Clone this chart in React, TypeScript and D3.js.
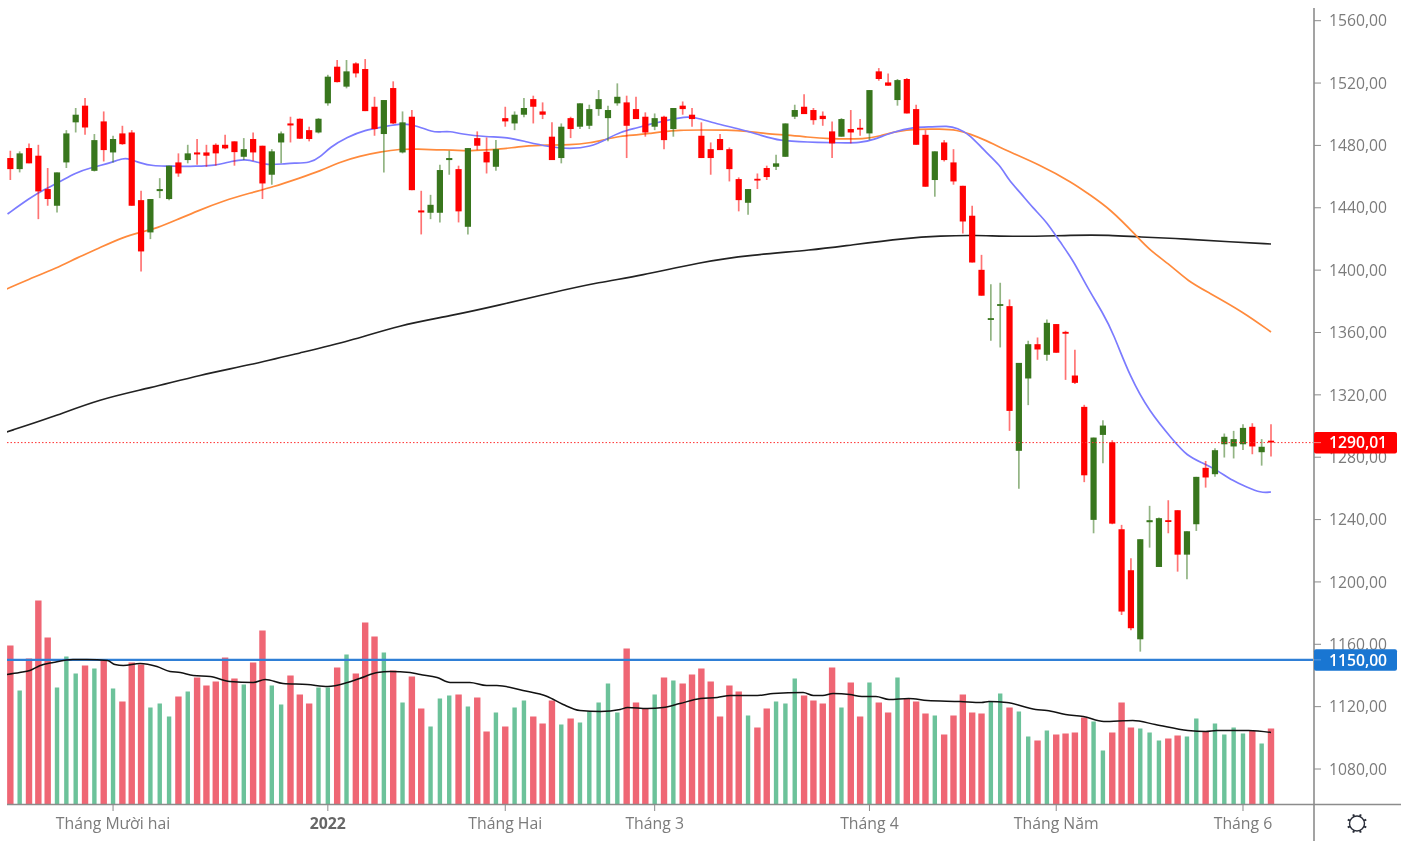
import React from "react";
import * as d3 from "d3";

const opens = [1471.9,1464.8,1478.3,1473.4,1452.0,1441.3,1469.1,1494.8,1505.5,1463.7,1495.4,1475.5,1487.7,1488.3,1444.9,1424.2,1450.7,1445.6,1469.1,1470.6,1475.5,1475.5,1480.4,1480.4,1482.6,1472.7,1484.1,1479.8,1461.2,1481.9,1494.1,1497.1,1489.8,1488.3,1507.0,1530.5,1517.7,1532.6,1529.0,1504.8,1487.3,1516.8,1475.5,1498.4,1438.3,1436.8,1436.8,1470.6,1464.8,1427.8,1484.7,1475.9,1466.3,1497.5,1494.1,1499.7,1509.7,1501.8,1485.6,1471.9,1497.5,1492.0,1492.6,1503.3,1497.5,1507.0,1507.6,1503.3,1498.4,1492.0,1498.4,1490.5,1505.5,1499.7,1486.2,1477.6,1484.1,1477.6,1458.4,1443.2,1458.6,1465.5,1466.3,1472.7,1498.4,1504.8,1502.7,1499.0,1489.0,1485.6,1490.5,1491.3,1487.7,1527.5,1520.4,1509.1,1522.6,1503.3,1486.8,1457.8,1481.9,1469.1,1454.1,1434.9,1400.2,1368.4,1377.1,1376.9,1284.1,1330.5,1352.5,1345.7,1365.4,1360.4,1332.4,1312.3,1239.8,1294.3,1289.6,1233.8,1207.5,1163.2,1238.3,1209.6,1239.6,1246.0,1217.5,1237.0,1273.2,1269.1,1288.3,1286.9,1288.3,1299.5,1283.2,1290.6];
const closes = [1464.8,1474.9,1468.5,1450.5,1445.6,1462.7,1487.7,1499.7,1491.5,1483.4,1477.0,1484.1,1480.8,1441.3,1412.0,1445.6,1452.0,1467.0,1462.0,1474.9,1474.2,1473.4,1474.9,1478.1,1475.7,1477.6,1475.5,1455.6,1476.2,1487.7,1492.8,1484.3,1484.1,1497.1,1524.1,1520.6,1527.5,1526.2,1502.0,1490.5,1509.1,1494.1,1494.8,1451.3,1437.0,1441.9,1464.2,1471.9,1437.7,1478.3,1479.8,1469.1,1477.6,1495.4,1499.7,1504.0,1504.8,1499.7,1470.6,1492.0,1490.5,1507.0,1503.3,1509.7,1502.7,1511.2,1492.6,1496.9,1488.3,1497.5,1483.4,1504.0,1503.3,1496.9,1471.9,1471.9,1477.0,1464.8,1444.9,1452.0,1457.5,1459.7,1468.5,1494.1,1502.7,1500.1,1496.2,1496.9,1481.3,1496.9,1488.3,1490.7,1515.5,1522.6,1518.3,1521.9,1500.5,1480.4,1453.5,1476.2,1470.6,1456.9,1431.2,1404.9,1383.6,1369.2,1378.2,1309.7,1340.5,1352.5,1349.1,1366.2,1347.0,1359.2,1327.7,1268.4,1292.6,1300.3,1237.4,1181.0,1170.3,1227.4,1239.6,1240.9,1238.9,1217.5,1232.5,1267.4,1267.0,1284.5,1293.1,1291.6,1298.8,1286.9,1286.7,1290.01];
const highs = [1476.6,1476.2,1481.3,1480.4,1465.5,1462.7,1489.8,1504.0,1510.4,1487.3,1501.8,1486.2,1492.6,1489.8,1450.9,1445.6,1459.0,1467.0,1474.9,1480.4,1484.1,1480.4,1481.3,1486.8,1482.6,1484.7,1488.3,1479.8,1477.6,1489.0,1498.4,1497.3,1492.0,1497.5,1525.3,1534.8,1534.8,1533.3,1535.4,1511.2,1509.1,1521.1,1501.8,1502.7,1450.9,1448.3,1467.6,1476.6,1467.0,1478.3,1489.0,1485.1,1483.4,1504.8,1501.8,1510.4,1511.9,1507.6,1494.8,1494.1,1498.4,1507.0,1506.1,1515.5,1505.5,1519.8,1511.9,1511.2,1501.2,1500.5,1499.0,1504.0,1508.2,1504.0,1494.8,1481.9,1487.3,1478.7,1459.5,1452.0,1462.0,1467.0,1474.0,1494.1,1506.1,1512.9,1504.0,1501.8,1495.4,1497.5,1502.7,1496.9,1515.5,1529.6,1526.2,1522.6,1523.2,1506.1,1489.8,1476.2,1483.4,1477.6,1454.1,1441.3,1409.8,1391.0,1391.9,1381.2,1340.5,1354.7,1356.8,1368.4,1365.4,1361.1,1348.9,1313.6,1292.6,1303.7,1290.9,1236.6,1215.2,1227.4,1248.8,1241.3,1252.4,1246.0,1232.5,1267.4,1277.6,1285.8,1295.2,1296.9,1301.2,1301.8,1291.6,1301.2];
const lows = [1457.8,1462.7,1468.5,1432.7,1441.3,1437.0,1465.5,1488.3,1486.8,1463.3,1469.7,1469.1,1480.4,1441.3,1399.2,1419.9,1446.2,1444.9,1459.9,1468.5,1467.6,1466.3,1467.0,1477.6,1467.0,1470.6,1470.2,1445.6,1454.8,1468.5,1481.9,1484.1,1482.6,1487.7,1505.5,1520.4,1516.6,1523.6,1502.0,1486.2,1462.7,1493.7,1474.9,1451.3,1422.9,1432.7,1430.6,1461.2,1430.6,1422.9,1477.0,1462.0,1463.7,1492.0,1489.8,1498.0,1494.1,1496.9,1470.6,1468.5,1484.7,1490.5,1490.5,1499.0,1482.6,1505.5,1471.9,1496.9,1485.6,1489.8,1477.6,1485.6,1499.7,1492.0,1471.9,1461.2,1477.0,1456.9,1437.7,1435.5,1452.0,1457.8,1464.2,1472.7,1496.9,1500.1,1493.3,1492.6,1471.9,1485.6,1481.3,1486.2,1483.4,1521.5,1518.3,1505.5,1500.5,1480.4,1453.5,1447.1,1469.7,1454.8,1423.5,1404.9,1383.6,1354.7,1350.4,1296.9,1259.7,1313.4,1342.5,1341.8,1347.0,1329.6,1326.9,1264.0,1231.2,1276.2,1237.0,1178.8,1169.0,1155.3,1222.0,1209.6,1231.2,1206.6,1201.7,1232.7,1260.5,1267.4,1279.8,1279.2,1284.7,1281.9,1274.6,1280.4];
const volumes = [159,114,146,204,167,117,148,131,139,136,144,116,103,142,140,97,101,88,108,113,127,119,123,147,126,120,142,174,119,100,129,110,101,117,117,137,150,131,182,168,152,134,102,128,96,78,106,109,110,98,107,73,92,78,97,104,88,81,104,80,86,82,93,102,121,92,156,102,96,110,127,124,121,130,136,123,88,119,113,89,77,96,103,101,126,109,104,101,137,97,122,88,122,102,92,127,106,103,91,89,70,89,110,92,91,103,111,97,93,68,64,74,70,71,72,87,83,54,72,102,77,76,72,64,66,69,68,86,73,81,70,77,71,74,61,76];

const blueIdx = [-0.3,2.1,3.5,5.3,6.9,8.9,10.7,12.1,12.8,13.9,15.3,16.8,18.9,20.3,21.7,23.8,25.1,26.4,27.5,29.2,30.3,32.1,33.2,34.2,36.1,38.0,39.9,42,43.6,45.2,46,47.1,48.2,51,53.2,55.3,57.8,59.9,62.1,63.9,65.3,67.1,68.5,69.6,71,72.1,73.3,75.3,78.1,80.3,82.4,85.3,88.8,91,92.4,94.5,96.7,98.8,100.3,101.4,102.8,104.2,106,106.9,108.1,109.5,111,112.4,113.8,115.3,117,118.1,119.9,122,124.5,126,127.7,129.2,130.9,132.4,133.9,135];
const blueVal = [1436.0,1446.3,1451.4,1456.5,1462.3,1466.2,1468.7,1471.9,1471.3,1468.7,1466.8,1466.8,1466.4,1466.8,1466.8,1470.0,1471.3,1469.4,1467.4,1468.1,1468.7,1468.7,1472.6,1478.7,1485.4,1489.9,1491.8,1494.4,1492.5,1488.6,1488.6,1489.2,1487.3,1485.4,1485.4,1482.2,1479.0,1477.7,1479.0,1484.1,1488.6,1491.2,1493.7,1495.0,1497.0,1498.2,1498.2,1494.4,1490.5,1486.7,1482.8,1482.2,1481.6,1481.6,1483.5,1488.6,1491.8,1491.8,1492.5,1491.2,1486.7,1477.1,1467.4,1457.8,1450.1,1439.9,1430.9,1418.1,1406.5,1389.2,1372.5,1359.7,1331.5,1309.0,1291.1,1280.8,1276.3,1271.8,1264.8,1260.9,1257.1,1257.7];
const orangeIdx = [-0.4,1.8,5,7.1,9.3,12.1,14.1,15.7,17.8,20,22.8,25.7,28.1,31,33.2,35.3,37.4,39.6,41.7,43.6,45.7,47.4,48.9,51,52.8,54.9,57.5,59.9,62.1,63.5,65.3,67.1,68.5,69.6,71.7,73.9,76.8,78.9,81,83.2,85.3,87.5,91.7,93.1,94.9,97.1,99.6,101.4,102.8,104.4,106.5,110.3,113.8,115.3,117.8,120.7,122,124.2,126.1,128.2,132,135];
const orangeVal = [1387.9,1393.7,1401.4,1407.8,1413.6,1421.3,1424.5,1427.0,1432.2,1437.9,1444.4,1449.5,1453.3,1459.1,1463.6,1469.4,1473.2,1475.8,1477.7,1477.7,1477.1,1477.1,1476.4,1477.1,1477.7,1479.6,1480.3,1480.3,1481.6,1483.5,1486.0,1486.7,1487.7,1488.6,1489.9,1489.9,1489.9,1489.2,1487.3,1486.7,1485.4,1484.1,1484.1,1486.0,1489.2,1490.5,1490.5,1489.9,1487.3,1483.5,1477.1,1467.4,1455.9,1449.5,1439.2,1421.3,1412.9,1403.3,1393.0,1386.0,1373.2,1360.3];
const blackIdx = [-0.4,4.3,9.6,15,20.3,25.7,31,36.4,41.7,47.1,52.4,57.8,63.2,67.4,73.9,79.2,86,89.9,96,99.6,103.1,108.1,113.8,117.8,120.7,126,130.6,135];
const blackVal = [1296.2,1305.2,1317.4,1324.4,1332.8,1339.2,1346.9,1354.6,1364.8,1370.6,1377.6,1385.3,1392.4,1396.3,1405.2,1409.7,1412.9,1416.1,1420.6,1421.9,1422.5,1421.3,1422.5,1422.5,1421.3,1420.0,1418.1,1416.8];
const volMaIdx = [-0.4,1,2.1,3.2,4.6,6.7,8.2,10.4,11.2,12.1,13.9,15.7,17.1,18.2,19.6,21.4,23.5,26,27.3,29.2,31.8,34,36.1,37.4,39.3,40.7,42.8,43.9,45.7,47.1,49.2,51,52.1,54.9,57.5,59.2,61,63.2,65.3,66.1,68.2,69.9,71.7,73.9,75.7,77.1,80,81.7,84.9,86,87,88.1,89.9,91.2,92.7,94.1,96.2,98.2,101.7,104,104.8,106.7,109.8,111,113,114.9,117.1,120.2,122.6,126.1,128,129.2,132.6,135];
const volMaVal = [130,132,134,139,142,145,145,144,140,139,141,138,133,132,129,128,123,122,125,121,120,118,122,126,132,133,132,130,127,122,122,119,119,114,108,100,94,93,95,97,96,97,101,106,107,109,109,111,112,109,109,111,110,108,108,105,106,104,103,102,103,102,95,94,90,88,83,84,80,74,73,74,74,72];

const priceTicks = [1560,1520,1480,1440,1400,1360,1320,1280,1240,1200,1160,1120,1080];
const timeIdx = [11,34,53,69,92,112,132];
const timeLabels = ["Tháng Mười hai","2022","Tháng Hai","Tháng 3","Tháng 4","Tháng Năm","Tháng 6"];
const lastPrice = 1290.01;
const levelPrice = 1150;

const FONT = "'Open Sans', sans-serif";
const RED = "#ff0000";
const GREEN = "#38761d";
const AXIS = "#8c8c8c";
const TEXT = "#7b7b7b";

const x = d3.scaleLinear().domain([0, 135]).range([10.33, 1271]);
const y = d3.scaleLinear().domain([1560, 1080]).range([20.7, 769]);
const yv = d3.scaleLinear().domain([0, 210]).range([804.5, 594.5]);
const fmt = (v: number) => d3.format(".2f")(v).replace(".", ",");

const priceLine = (ids: number[], vals: number[]) =>
  d3.line<number>().x((d) => x(d)).y((_, i) => y(vals[i])).curve(d3.curveBasis)(ids) as string;
const volLine = (ids: number[], vals: number[]) =>
  d3.line<number>().x((d) => x(d)).y((_, i) => yv(vals[i])).curve(d3.curveMonotoneX)(ids) as string;

const gearAngles = d3.range(8).map((i) => (i * Math.PI) / 4);

export default function App() {
  return (
    <svg width={1408} height={841} viewBox="0 0 1408 841"
      style={{ position: "fixed", left: 0, top: 0, background: "#fff", filter: "blur(0.4px)" }}>
      <defs>
        <clipPath id="plot"><rect x={7} y={0} width={1306} height={804} /></clipPath>
      </defs>
      <g clipPath="url(#plot)">
        {volumes.map((v, i) => {
          const up = closes[i] >= opens[i];
          const w = up ? 4.4 : 6.4;
          return <rect key={i} x={x(i) - w / 2} y={yv(v)} width={w} height={yv(0) - yv(v)} fill={up ? "#6cc29a" : "#ef6674"} />;
        })}
        <line x1={7} x2={1313} y1={y(levelPrice)} y2={y(levelPrice)} stroke="#2f7fd6" strokeWidth={2.2} />
        <path d={volLine(volMaIdx, volMaVal)} fill="none" stroke="#111" strokeWidth={1.5} />
        <path d={priceLine(blackIdx, blackVal)} fill="none" stroke="#222" strokeWidth={1.6} />
        <path d={priceLine(orangeIdx, orangeVal)} fill="none" stroke="#ff8a3c" strokeWidth={1.7} />
        <path d={priceLine(blueIdx, blueVal)} fill="none" stroke="#7b7bff" strokeWidth={1.7} />
        {opens.map((o, i) => {
          const c = closes[i];
          const up = c >= o;
          const col = up ? GREEN : RED;
          const top = y(Math.max(o, c));
          const bot = y(Math.min(o, c));
          return (
            <g key={i}>
              <line x1={x(i)} x2={x(i)} y1={y(highs[i])} y2={y(lows[i])} stroke={col} strokeWidth={1.7} strokeOpacity={0.55} />
              <rect x={x(i) - 3.1} y={top} width={6.2} height={Math.max(bot - top, 1.8)} fill={col} />
            </g>
          );
        })}
        <line x1={7} x2={1313} y1={y(lastPrice) + 1} y2={y(lastPrice) + 1} stroke="#ff3030" strokeWidth={1} strokeDasharray="1.5 2" />
      </g>

      {/* axes */}
      <line x1={1314} x2={1314} y1={8} y2={841} stroke={AXIS} strokeWidth={1.6} />
      <line x1={7} x2={1401} y1={804.5} y2={804.5} stroke={AXIS} strokeWidth={1.4} />
      {priceTicks.map((t) => (
        <g key={t}>
          <line x1={1314} x2={1321} y1={y(t)} y2={y(t)} stroke={AXIS} strokeWidth={1} />
          <text x={1329} y={y(t)} dy="0.36em" fontFamily={FONT} fontSize={15.7} fill={TEXT}>{fmt(t)}</text>
        </g>
      ))}
      {timeIdx.map((t, i) => (
        <g key={t}>
          <line x1={x(t)} x2={x(t)} y1={805} y2={811} stroke={AXIS} strokeWidth={1} />
          <text x={x(t)} y={828.5} textAnchor="middle" fontFamily={FONT} fontSize={15.8}
            fontWeight={timeLabels[i] === "2022" ? 700 : 400} fill={timeLabels[i] === "2022" ? "#666" : TEXT}>
            {timeLabels[i]}
          </text>
        </g>
      ))}

      {/* price badges */}
      <rect x={1314} y={y(levelPrice) - 10.5} width={83} height={21.5} rx={2} fill="#1976d2" />
      <line x1={1314} x2={1321} y1={y(levelPrice)} y2={y(levelPrice)} stroke="#5a9be0" strokeWidth={1} />
      <text x={1329} y={y(levelPrice)} dy="0.36em" fontFamily={FONT} fontSize={15.7} fontWeight={600} fill="#fff">{fmt(levelPrice)}</text>
      <rect x={1314} y={y(lastPrice) - 9.5} width={83} height={21.5} rx={2} fill={RED} />
      <line x1={1314} x2={1321} y1={y(lastPrice) + 1} y2={y(lastPrice) + 1} stroke="#ff8080" strokeWidth={1} />
      <text x={1329} y={y(lastPrice) + 1} dy="0.36em" fontFamily={FONT} fontSize={15.7} fontWeight={600} fill="#fff">{fmt(lastPrice)}</text>

      {/* settings gear */}
      <g transform="translate(1357,823.5)" stroke="#2a2e39" fill="none">
        <circle r={7.5} strokeWidth={1.4} />
        {gearAngles.map((a, i) => (
          <line key={i} x1={Math.cos(a + Math.PI / 8) * 7.5} y1={Math.sin(a + Math.PI / 8) * 7.5}
            x2={Math.cos(a + Math.PI / 8) * 10} y2={Math.sin(a + Math.PI / 8) * 10} strokeWidth={2} />
        ))}
      </g>
    </svg>
  );
}
